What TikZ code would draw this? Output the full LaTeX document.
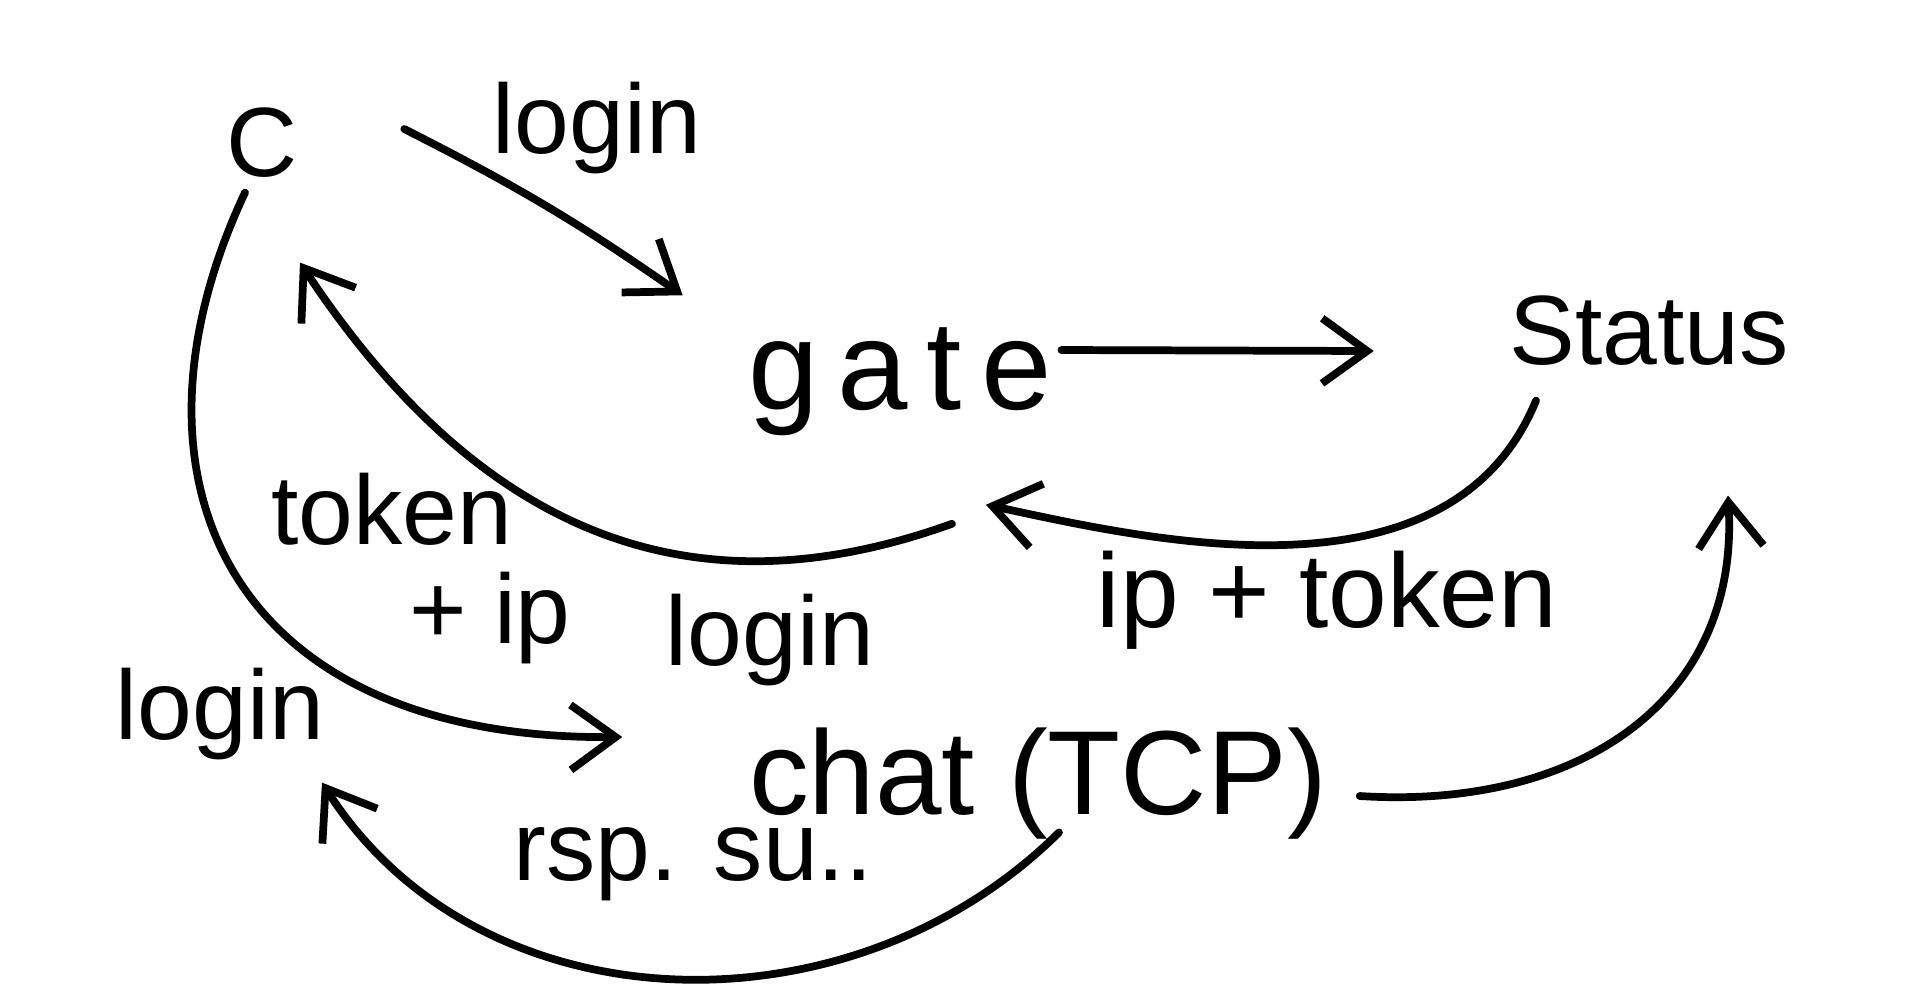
\documentclass[tikz,border=0pt]{standalone}
\usepackage{fontspec}
\setmainfont{Liberation Sans}
\usetikzlibrary{arrows.meta}

\def\handfont{\fontsize{28}{34}\selectfont}
\def\tokenfont{\fontsize{30}{36}\selectfont}
\def\bigfont{\fontsize{34}{40}\selectfont}
\def\gatefont{\fontsize{36}{42}\selectfont\addfontfeature{LetterSpace=15}}

\begin{document}
\begin{tikzpicture}[x=0.01cm, y=-0.01cm,
                    word/.style={inner sep=0pt, font=\handfont},
                    link/.style={line width=2.2pt, line cap=round, line join=round,
                                 -{Straight Barb[length=4.5mm, width=6.5mm]}}]
                        \useasboundingbox (0,0) rectangle (1919,990);
                        \node[word] (client) at (262,143) {C};
                        \node[word, font=\gatefont] (gate) at (900,382) {gate};
                        \node[word] (status) at (1649,331) {Status};
                        \node[word, font=\bigfont] (chat) at (1038,784) {chat (TCP)};
                        \node[word] (login) at (220,714) {login};

                        \node[word] (gatelogin) at (597,128) {login};
                        \node[word] (token) at (392,509) {token};
                        \node[word] (plusip) at (490,618) {+ ip};
                        \node[word] (chatlogin) at (770,640) {login};
                        \node[word, font=\tokenfont] (iptoken) at (1327,600) {ip + token};
                        \node[word] (rsp) at (693,864) {rsp. su..};

                        \draw[link] ([shift={(106,-14)}]client.east) to[bend left=4] ([shift={(-65,-32)}]gate.north west);
                        \draw[link] ([shift={(9,-32)}]gate.east) -- ([shift={(-135,20)}]status.west);
                        \draw[link] ([shift={(52,87)}]gate.south) .. controls (740,600) and (510,580) .. ([shift={(38,84)}]client.south);
                        \draw[link] ([shift={(-113,34)}]status.south) .. controls (1450,610) and (1150,540) .. ([shift={(86,68)}]gate.south);
                        \draw[link] ([shift={(-17,14)}]client.south) .. controls (110,480) and (230,740) .. ([shift={(-126,-47)}]chat.west);
                        \draw[link] ([shift={(32,12)}]chat.east) .. controls (1580,810) and (1740,700) .. ([shift={(79,129)}]status.south);
                        \draw[link] ([shift={(21,-8)}]chat.south) .. controls (850,1040) and (480,1030) .. ([shift={(102,22)}]login.south);
                      \end{tikzpicture}
\end{document}
